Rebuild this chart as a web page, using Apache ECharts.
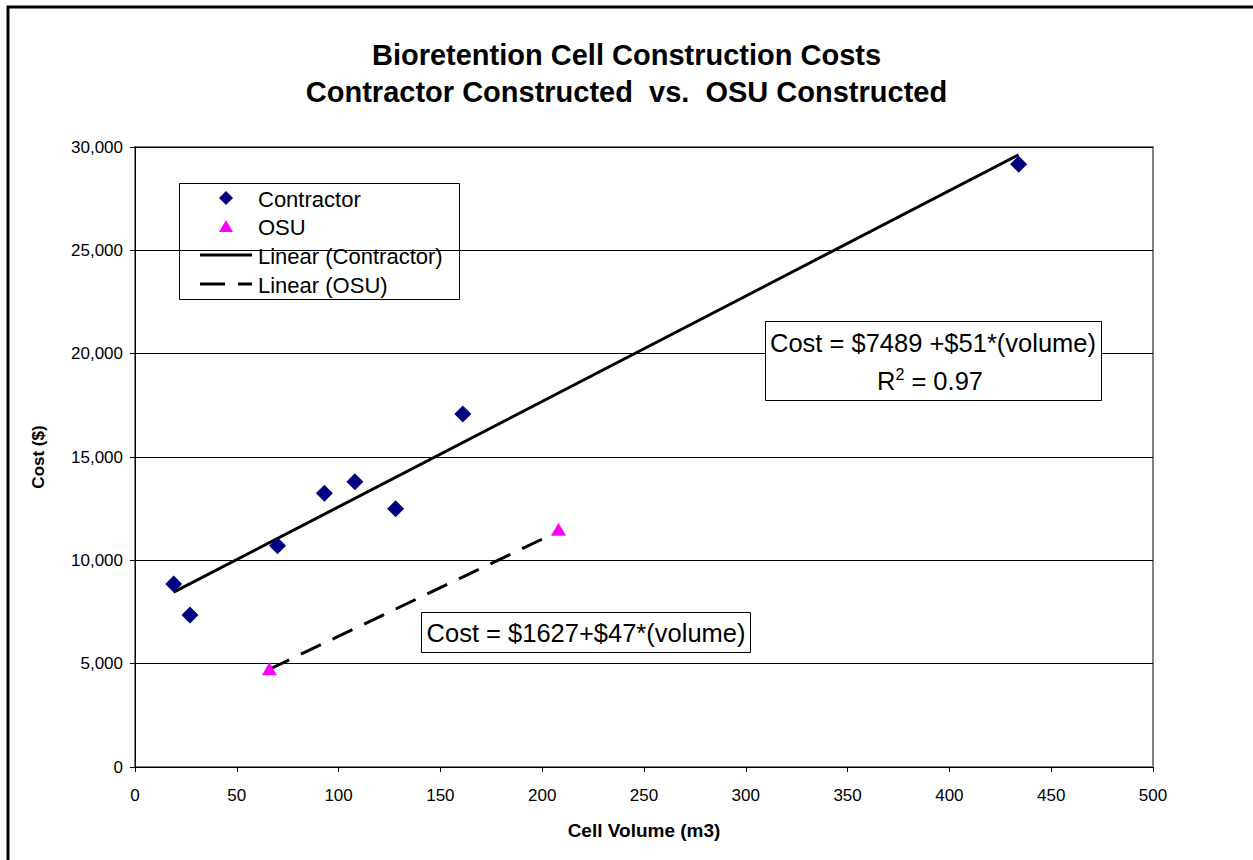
<!DOCTYPE html>
<html>
<head>
<meta charset="utf-8">
<style>
  html, body { margin: 0; padding: 0; background: #fff; }
  #main { width: 1253px; height: 860px; }
</style>
</head>
<body>
<div id="main"></div>
<script src="https://cdn.jsdelivr.net/npm/echarts@6/dist/echarts.min.js"></script>
<script>
// data: [cell volume m3, cost $]
var contractorData = [
  [19, 8850], [27, 7350], [70, 10700], [93, 13250],
  [108, 13800], [128, 12500], [161, 17080], [434, 29170]
];
var osuData = [
  [66, 4750], [208, 11500]
];
// trend line coefficients from the chart's equation labels
var contractorFit = [7489, 51];
var osuFit = [1627, 47];
var xTicks = [0, 500, 50];
var yTicks = [0, 30000, 5000];

function fitLine(data, fit) {
  var xs = data.map(function (d) { return d[0]; });
  var x0 = Math.min.apply(null, xs), x1 = Math.max.apply(null, xs);
  return [[x0, fit[0] + fit[1] * x0], [x1, fit[0] + fit[1] * x1]];
}

var font = 'Arial, "Liberation Sans", sans-serif';
var chart = echarts.init(document.getElementById('main'), null, { renderer: 'svg' });

// legend drawn by hand so it looks like the Excel one
var legendItems = [
  { y: 198, text: 'Contractor', icon: 'diamond' },
  { y: 226, text: 'OSU', icon: 'triangle' },
  { y: 255, text: 'Linear (Contractor)', icon: 'solid' },
  { y: 284, text: 'Linear (OSU)', icon: 'dash' }
];
var legendEls = [{
  type: 'rect', shape: { x: 179.5, y: 183.5, width: 280, height: 116 },
  style: { fill: '#fff', stroke: '#000', lineWidth: 1 }
}];
legendItems.forEach(function (it) {
  if (it.icon === 'diamond') {
    legendEls.push({ type: 'polygon', shape: { points: [[226, it.y - 7], [233, it.y], [226, it.y + 7], [219, it.y]] }, style: { fill: '#000080' } });
  } else if (it.icon === 'triangle') {
    legendEls.push({ type: 'polygon', shape: { points: [[226, it.y - 6], [233, it.y + 6], [219, it.y + 6]] }, style: { fill: '#ff00ff' } });
  } else if (it.icon === 'solid') {
    legendEls.push({ type: 'line', shape: { x1: 200, y1: it.y, x2: 252, y2: it.y }, style: { stroke: '#000', lineWidth: 3 } });
  } else {
    legendEls.push({ type: 'line', shape: { x1: 200, y1: it.y, x2: 252, y2: it.y }, style: { stroke: '#000', lineWidth: 3, lineDash: [25, 13] } });
  }
  legendEls.push({
    type: 'text', x: 258, y: it.y + 1,
    style: { text: it.text, font: '22px ' + font, fill: '#000', verticalAlign: 'middle' }
  });
});

var option = {
  backgroundColor: '#fff',
  animation: false,
  title: {
    text: 'Bioretention Cell Construction Costs\nContractor Constructed  vs.  OSU Constructed',
    left: 'center', top: 31,
    textStyle: { fontFamily: font, fontSize: 29, fontWeight: 'bold', color: '#000', lineHeight: 37 }
  },
  grid: { left: 135, right: 100, top: 147, bottom: 93, show: true, borderColor: '#808080', borderWidth: 2 },
  xAxis: {
    type: 'value', min: xTicks[0], max: xTicks[1], interval: xTicks[2],
    name: 'Cell Volume (m3)', nameLocation: 'middle', nameGap: 54,
    nameTextStyle: { fontFamily: font, fontSize: 19, fontWeight: 'bold', color: '#000' },
    axisLine: { onZero: false, lineStyle: { color: '#000', width: 1 } },
    axisTick: { show: true, length: 5, lineStyle: { color: '#000' } },
    axisLabel: { fontFamily: font, fontSize: 17, color: '#000', margin: 20 },
    splitLine: { show: false }
  },
  yAxis: {
    type: 'value', min: yTicks[0], max: yTicks[1], interval: yTicks[2],
    name: 'Cost ($)', nameLocation: 'middle', nameGap: 88,
    nameTextStyle: { fontFamily: font, fontSize: 17, fontWeight: 'bold', color: '#000' },
    axisLine: { show: true, lineStyle: { color: '#000', width: 1 } },
    axisTick: { show: true, length: 5, lineStyle: { color: '#000' } },
    axisLabel: {
      fontFamily: font, fontSize: 17, color: '#000', margin: 12,
      formatter: function (v) { return v.toLocaleString('en-US'); }
    },
    splitLine: { show: true, lineStyle: { color: '#000', width: 1 } }
  },
  series: [
    {
      name: 'Linear (Contractor)', type: 'line', data: fitLine(contractorData, contractorFit),
      symbol: 'none', lineStyle: { color: '#000', width: 3 }, z: 3
    },
    {
      name: 'Linear (OSU)', type: 'line', data: fitLine(osuData, osuFit),
      symbol: 'none', lineStyle: { color: '#000', width: 3, type: [22, 13] }, z: 3
    },
    {
      name: 'Contractor', type: 'scatter', data: contractorData,
      symbol: 'diamond', symbolSize: [17, 17], itemStyle: { color: '#000080', opacity: 1 }, z: 4
    },
    {
      name: 'OSU', type: 'scatter', data: osuData,
      symbol: 'triangle', symbolSize: [15, 13], itemStyle: { color: '#ff00ff', opacity: 1 }, z: 4
    }
  ],
  graphic: [
    {
      type: 'rect', shape: { x: 8, y: 7, width: 1300, height: 900 },
      style: { fill: 'none', stroke: '#000', lineWidth: 3 }, z: 10
    },
    { type: 'group', children: legendEls, z: 5 },
    {
      type: 'rect', shape: { x: 765.5, y: 321.5, width: 336, height: 79 },
      style: { fill: '#fff', stroke: '#000', lineWidth: 1 }, z: 5
    },
    {
      type: 'text', x: 933, y: 343, z: 6,
      style: { text: 'Cost = $7489 +$51*(volume)', font: '25.5px ' + font, fill: '#000', align: 'center', verticalAlign: 'middle' }
    },
    {
      type: 'text', x: 930, y: 381, z: 6,
      style: {
        text: 'R{sup|2} = 0.97', font: '25.5px ' + font, fill: '#000', align: 'center', verticalAlign: 'middle',
        rich: { sup: { fontSize: 16, fontFamily: font, verticalAlign: 'top', padding: [0, 0, 14, 0] } }
      }
    },
    {
      type: 'rect', shape: { x: 421.5, y: 612.5, width: 329, height: 40 },
      style: { fill: '#fff', stroke: '#000', lineWidth: 1 }, z: 5
    },
    {
      type: 'text', x: 586, y: 633, z: 6,
      style: { text: 'Cost = $1627+$47*(volume)', font: '25.5px ' + font, fill: '#000', align: 'center', verticalAlign: 'middle' }
    }
  ]
};
chart.setOption(option);
</script>
</body>
</html>
